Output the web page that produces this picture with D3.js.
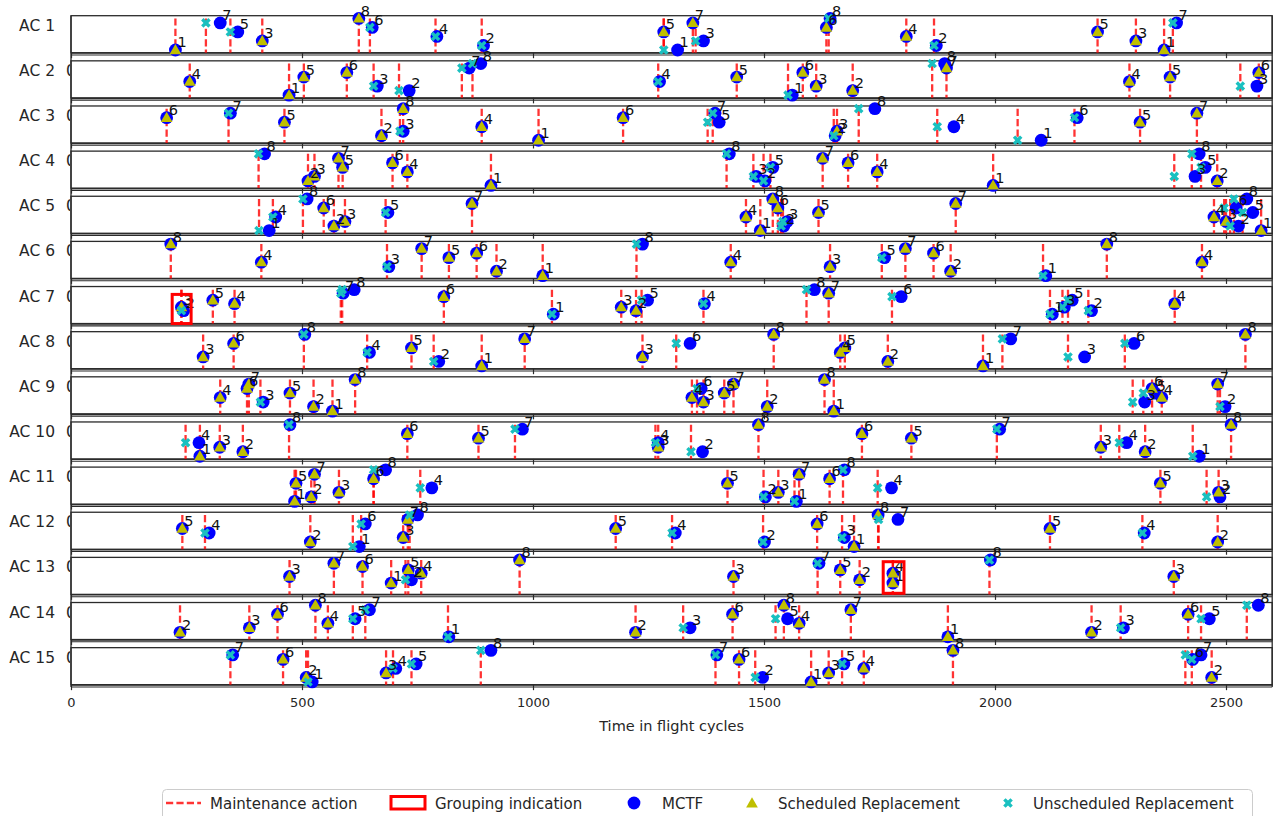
<!DOCTYPE html>
<html>
<head>
<meta charset="utf-8">
<script src="https://cdn.jsdelivr.net/npm/d3@7"></script>
<style>
  body { margin: 0; background: #fff; }
  svg { display: block; font-family: "DejaVu Sans", sans-serif; }
</style>
</head>
<body>
<svg id="chart" width="1279" height="816"></svg>
<script>
// Aircraft rows, top to bottom
const aircraft = ["AC 1","AC 2","AC 3","AC 4","AC 5","AC 6","AC 7","AC 8","AC 9","AC 10","AC 11","AC 12","AC 13","AC 14","AC 15"];
const xTicks = [0, 500, 1000, 1500, 2000, 2500];
const xLabel = "Time in flight cycles";

// Events per aircraft: [maintenance time, component, S = scheduled / U = unscheduled, MCTF time]
const ac1 = [[226,1,"S"],[292,7,"U",323],[345,5,"U",361],[414,3,"S"],[623,8,"S"],[647,6,"U",652],[789,4,"U",792],[889,2,"U",893],[1283,5,"S"],[1283,1,"U",1313],[1346,7,"S"],[1352,3,"U",1369],[1635,6,"S"],[1640,8,"U",1643],[1808,4,"S"],[1868,2,"U",1873],[2222,5,"S"],[2305,3,"S"],[2366,1,"S"],[2385,7,"U",2393]];
const ac2 = [[257,4,"S"],[472,1,"S"],[504,5,"S"],[597,6,"S"],[655,3,"U",663],[710,2,"U",732],[846,7,"U",862],[869,8,"U",887],[1271,4,"U",1274],[1441,5,"S"],[1552,1,"U",1561],[1584,6,"S"],[1613,3,"S"],[1692,2,"S"],[1864,8,"U",1891],[1895,7,"S"],[2291,4,"S"],[2379,5,"S"],[2531,3,"U",2567],[2571,6,"S"]];
const ac3 = [[207,6,"S"],[341,7,"U",345],[462,5,"S"],[672,2,"S"],[712,3,"U",719],[719,8,"S"],[889,4,"S"],[1012,1,"S"],[1195,6,"S"],[1378,5,"U",1403],[1389,7,"U",1394],[1651,2,"U",1654],[1658,3,"S"],[1705,8,"U",1740],[1875,4,"U",1911],[2049,1,"U",2100],[2172,6,"U",2178],[2314,5,"S"],[2437,7,"S"]];
const ac4 = [[406,8,"U",419],[513,2,"S"],[527,3,"S"],[579,7,"S"],[588,5,"S"],[696,6,"S"],[728,4,"S"],[909,1,"S"],[1419,8,"U",1425],[1477,3,"U",1483],[1499,2,"U",1502],[1514,5,"U",1519],[1627,7,"S"],[1682,6,"S"],[1745,4,"S"],[1996,1,"S"],[2388,3,"U",2433],[2426,8,"U",2442],[2446,5,"U",2455],[2481,2,"S"]];
const ac5 = [[407,1,"U",429],[437,4,"U",443],[502,8,"U",511],[547,6,"S"],[569,2,"S"],[593,3,"S"],[681,5,"U",686],[868,7,"S"],[1461,4,"S"],[1492,1,"S"],[1519,8,"S"],[1530,6,"S"],[1537,2,"U",1543],[1541,3,"U",1550],[1618,5,"S"],[1915,7,"S"],[2474,4,"S"],[2496,6,"U",2522],[2500,3,"S"],[2509,2,"U",2527],[2517,8,"U",2545],[2536,5,"U",2558],[2576,1,"S"]];
const ac6 = [[216,8,"S"],[412,4,"S"],[684,3,"U",688],[759,7,"S"],[818,5,"S"],[878,6,"S"],[921,2,"S"],[1021,1,"S"],[1224,8,"U",1237],[1428,4,"S"],[1643,3,"S"],[1755,5,"U",1761],[1806,7,"S"],[1867,6,"S"],[1904,2,"S"],[2104,1,"U",2110],[2242,8,"S"],[2448,4,"S"]];
const ac7 = [[239,3,"S"],[239,2,"U",244],[307,5,"S"],[354,4,"S"],[584,7,"U",589],[587,8,"U",613],[807,6,"S"],[1041,1,"U",1044],[1191,3,"S"],[1223,2,"S"],[1235,5,"U",1248],[1369,4,"U",1371],[1592,8,"U",1609],[1640,7,"S"],[1777,6,"U",1797],[2119,1,"U",2124],[2146,3,"U",2150],[2158,5,"U",2167],[2202,2,"U",2209],[2389,4,"S"]];
const ac8 = [[286,3,"S"],[352,6,"S"],[504,8,"U",506],[641,4,"U",646],[737,5,"S"],[785,2,"U",796],[889,1,"S"],[982,7,"S"],[1237,3,"S"],[1310,6,"U",1340],[1521,8,"S"],[1665,4,"S"],[1675,5,"S"],[1768,2,"S"],[1974,1,"S"],[2016,7,"U",2034],[2158,3,"U",2194],[2281,6,"U",2301],[2542,8,"S"]];
const ac9 = [[323,4,"S"],[381,6,"S"],[385,7,"S"],[410,3,"U",416],[474,5,"S"],[525,2,"S"],[566,1,"S"],[615,8,"S"],[1344,4,"S"],[1355,6,"U",1364],[1369,3,"S"],[1414,5,"S"],[1434,7,"S"],[1507,2,"S"],[1631,8,"S"],[1651,1,"S"],[2298,3,"U",2324],[2321,5,"U",2346],[2340,6,"S"],[2361,4,"S"],[2482,7,"S"],[2487,2,"U",2498]];
const ac10 = [[248,4,"U",277],[279,1,"S"],[322,3,"S"],[372,2,"S"],[472,8,"U",474],[728,6,"S"],[882,5,"S"],[961,7,"U",977],[1265,4,"U",1271],[1271,3,"S"],[1342,2,"U",1367],[1488,8,"S"],[1712,6,"S"],[1819,5,"S"],[2004,7,"U",2010],[2229,3,"S"],[2269,4,"U",2285],[2325,2,"S"],[2428,1,"U",2442],[2511,8,"S"]];
const ac11 = [[484,1,"S"],[487,5,"S"],[520,2,"S"],[527,7,"S"],[580,3,"S"],[655,6,"S"],[655,8,"U",681],[756,4,"U",781],[1421,5,"S"],[1499,2,"U",1503],[1531,3,"S"],[1566,1,"U",1570],[1576,7,"S"],[1642,6,"S"],[1671,8,"U",1674],[1746,4,"U",1776],[2358,5,"S"],[2458,2,"U",2487],[2484,3,"S"]];
const ac12 = [[241,5,"S"],[290,4,"U",299],[518,2,"S"],[610,1,"U",624],[628,6,"U",637],[719,3,"S"],[729,7,"S"],[733,8,"U",750],[1179,5,"S"],[1301,4,"U",1308],[1498,2,"U",1501],[1615,6,"S"],[1669,3,"U",1674],[1695,1,"S"],[1747,8,"S"],[1748,7,"U",1790],[2119,5,"S"],[2319,4,"U",2323],[2482,2,"S"]];
const ac13 = [[473,3,"S"],[569,7,"S"],[631,6,"S"],[693,1,"S"],[724,2,"U",737],[730,5,"S"],[758,4,"S"],[971,8,"S"],[1434,3,"S"],[1616,7,"U",1619],[1665,5,"S"],[1707,2,"S"],[1779,4,"S"],[1779,1,"S"],[1988,8,"U",1990],[2387,3,"S"]];
const ac14 = [[236,2,"S"],[386,3,"S"],[447,6,"S"],[529,8,"S"],[556,4,"S"],[610,5,"U",615],[637,7,"U",646],[816,1,"U",818],[1222,2,"S"],[1325,3,"U",1340],[1432,6,"S"],[1525,5,"U",1551],[1543,8,"S"],[1576,4,"S"],[1688,7,"S"],[1898,1,"S"],[2209,2,"S"],[2272,3,"U",2278],[2418,6,"S"],[2446,5,"U",2464],[2545,8,"U",2570]];
const ac15 = [[345,7,"U",350],[459,6,"S"],[509,2,"S"],[513,1,"U",522],[682,3,"S"],[697,4,"U",703],[737,5,"U",747],[887,8,"U",909],[1395,7,"U",1398],[1446,6,"S"],[1481,2,"U",1497],[1602,1,"S"],[1640,3,"S"],[1669,5,"U",1673],[1716,4,"S"],[1909,8,"S"],[2412,7,"U",2446],[2426,6,"U",2428],[2469,2,"S"]];
const events = [ac1, ac2, ac3, ac4, ac5, ac6, ac7, ac8, ac9, ac10, ac11, ac12, ac13, ac14, ac15];

// Grouped maintenance: [row index, start time, end time, low, high]
const groups = [[6, 219, 260, -1.68, 6.65], [12, 1758, 1803, -2.09, 7.48]];

// Vertical limits of each row (rows with a grouping box are stretched downwards)
const yLimits = aircraft.map((_, i) => i === 6 ? [-1.68, 8.9] : i === 12 ? [-2.42, 8.79] : [0.4, 8.6]);

const svg = d3.select("#chart");
const left = 71, right = 1272.2;
const firstTop = 15.7, pitch = 45.14, rowH = 37;
const x = d3.scaleLinear().domain([0, 2600]).range([left, right]);

const C = { red: "#ff0000", blue: "#0000ff", olive: "#bfbf00", cyan: "#1ac0c0", frame: "#2b2b2b", text: "#262626" };
const triangle = d3.symbol().type(d3.symbolTriangle).size(60);
const cross = d3.symbol().type(d3.symbolCross).size(58);

const defs = svg.append("defs");
defs.append("clipPath").attr("id", "tickclip")
  .append("rect").attr("x", 0).attr("y", 0).attr("width", 70).attr("height", 816);

const lastBottom = firstTop + pitch * (aircraft.length - 1) + rowH;

aircraft.forEach((name, i) => {
  const T = firstTop + pitch * i, B = T + rowH;
  const y = d3.scaleLinear().domain(yLimits[i]).range([B, T]);
  const data = events[i];
  const mctf = d => d[2] === "U" ? d[3] : (d[3] ?? d[0]);
  const g = svg.append("g").attr("class", "row");

  // row name
  g.append("text").attr("x", 55).attr("y", T + 15).attr("text-anchor", "end")
    .attr("font-size", 15.5).attr("fill", C.text).text(name);
  if (i > 0) {
    g.append("text").attr("x", 66).attr("y", T + 15).attr("clip-path", "url(#tickclip)")
      .attr("font-size", 15.5).attr("fill", C.text).text("0");
  }

  // frame
  g.append("rect").attr("x", left).attr("y", T).attr("width", right - left).attr("height", rowH)
    .attr("fill", "none").attr("stroke", C.frame).attr("stroke-width", 1.3);

  // per-row time axis (ticks only, labels on the last row)
  const axis = d3.axisBottom(x).tickValues(xTicks).tickSize(5.5).tickSizeOuter(0)
    .tickFormat(i === aircraft.length - 1 ? d3.format("d") : "");
  const ax = g.append("g").attr("transform", `translate(0,${B})`).call(axis);
  ax.select(".domain").attr("stroke", C.frame).attr("stroke-width", 1.3);
  ax.selectAll(".tick line").attr("stroke", C.frame).attr("stroke-width", 1.2);
  ax.selectAll(".tick text").attr("font-size", 13).attr("fill", C.text)
    .attr("font-family", "DejaVu Sans").attr("dy", "1.05em");
  g.append("line").attr("x1", left).attr("x2", right).attr("y1", B + 2.3).attr("y2", B + 2.3)
    .attr("stroke", C.frame).attr("stroke-width", 1.1);

  // maintenance actions
  g.selectAll("line.maint").data(data).join("line").attr("class", "maint")
    .attr("x1", d => x(d[0])).attr("x2", d => x(d[0]))
    .attr("y1", y(8)).attr("y2", B)
    .attr("stroke", C.red).attr("stroke-opacity", 0.8).attr("stroke-width", 2.3)
    .attr("stroke-dasharray", "7.2,3.2");

  // MCTF
  g.selectAll("circle.mctf").data(data).join("circle").attr("class", "mctf")
    .attr("cx", d => x(mctf(d))).attr("cy", d => y(d[1])).attr("r", 6.4)
    .attr("fill", C.blue);

  // scheduled replacements
  g.selectAll("path.sched").data(data.filter(d => d[2] === "S")).join("path").attr("class", "sched")
    .attr("d", triangle)
    .attr("transform", d => `translate(${x(d[0])},${y(d[1]) + 0.8})`)
    .attr("fill", C.olive);

  // unscheduled replacements
  g.selectAll("path.unsched").data(data.filter(d => d[2] === "U")).join("path").attr("class", "unsched")
    .attr("d", cross)
    .attr("transform", d => `translate(${x(d[0])},${y(d[1])}) rotate(45)`)
    .attr("fill", C.cyan);

  // component numbers
  g.selectAll("text.comp").data(data).join("text").attr("class", "comp")
    .attr("x", d => x(mctf(d)) + 2).attr("y", d => y(d[1]) - 2.5)
    .attr("font-size", 14.5).attr("fill", "#111").text(d => d[1]);

  // grouping boxes
  groups.filter(b => b[0] === i).forEach(b => {
    g.append("rect").attr("x", x(b[1])).attr("y", y(b[4]))
      .attr("width", x(b[2]) - x(b[1])).attr("height", y(b[3]) - y(b[4]))
      .attr("fill", "none").attr("stroke", C.red).attr("stroke-width", 3);
  });
});

// outer spines spanning all rows
[left, right].forEach(px => {
  svg.append("line").attr("x1", px).attr("x2", px).attr("y1", firstTop).attr("y2", lastBottom + 2.3)
    .attr("stroke", C.frame).attr("stroke-width", 1.3);
});

// axis title
svg.append("text").attr("x", (left + right) / 2).attr("y", 731).attr("text-anchor", "middle")
  .attr("font-size", 14.5).attr("fill", C.text).text(xLabel);

// legend
const lg = svg.append("g").attr("class", "legend");
lg.append("rect").attr("x", 162.5).attr("y", 789.5).attr("width", 1090).attr("height", 40).attr("rx", 4)
  .attr("fill", "#fff").attr("stroke", "#cccccc").attr("stroke-width", 1);
const ly = 803;
lg.append("line").attr("x1", 166).attr("x2", 201).attr("y1", ly).attr("y2", ly)
  .attr("stroke", C.red).attr("stroke-opacity", 0.8).attr("stroke-width", 2.3).attr("stroke-dasharray", "7.2,3.2");
lg.append("rect").attr("x", 391).attr("y", 796.5).attr("width", 34).attr("height", 12.5)
  .attr("fill", "none").attr("stroke", C.red).attr("stroke-width", 3);
lg.append("circle").attr("cx", 634).attr("cy", ly).attr("r", 6.4).attr("fill", C.blue);
lg.append("path").attr("d", triangle).attr("transform", `translate(752,${ly + 1})`).attr("fill", C.olive);
lg.append("path").attr("d", cross).attr("transform", `translate(1008,${ly}) rotate(45)`).attr("fill", C.cyan);
const legendText = [["Maintenance action", 210], ["Grouping indication", 435], ["MCTF", 662], ["Scheduled Replacement", 778], ["Unscheduled Replacement", 1033]];
lg.selectAll("text").data(legendText).join("text")
  .attr("x", d => d[1]).attr("y", ly + 5.5).attr("font-size", 15).attr("fill", C.text).text(d => d[0]);
</script>
</body>
</html>
